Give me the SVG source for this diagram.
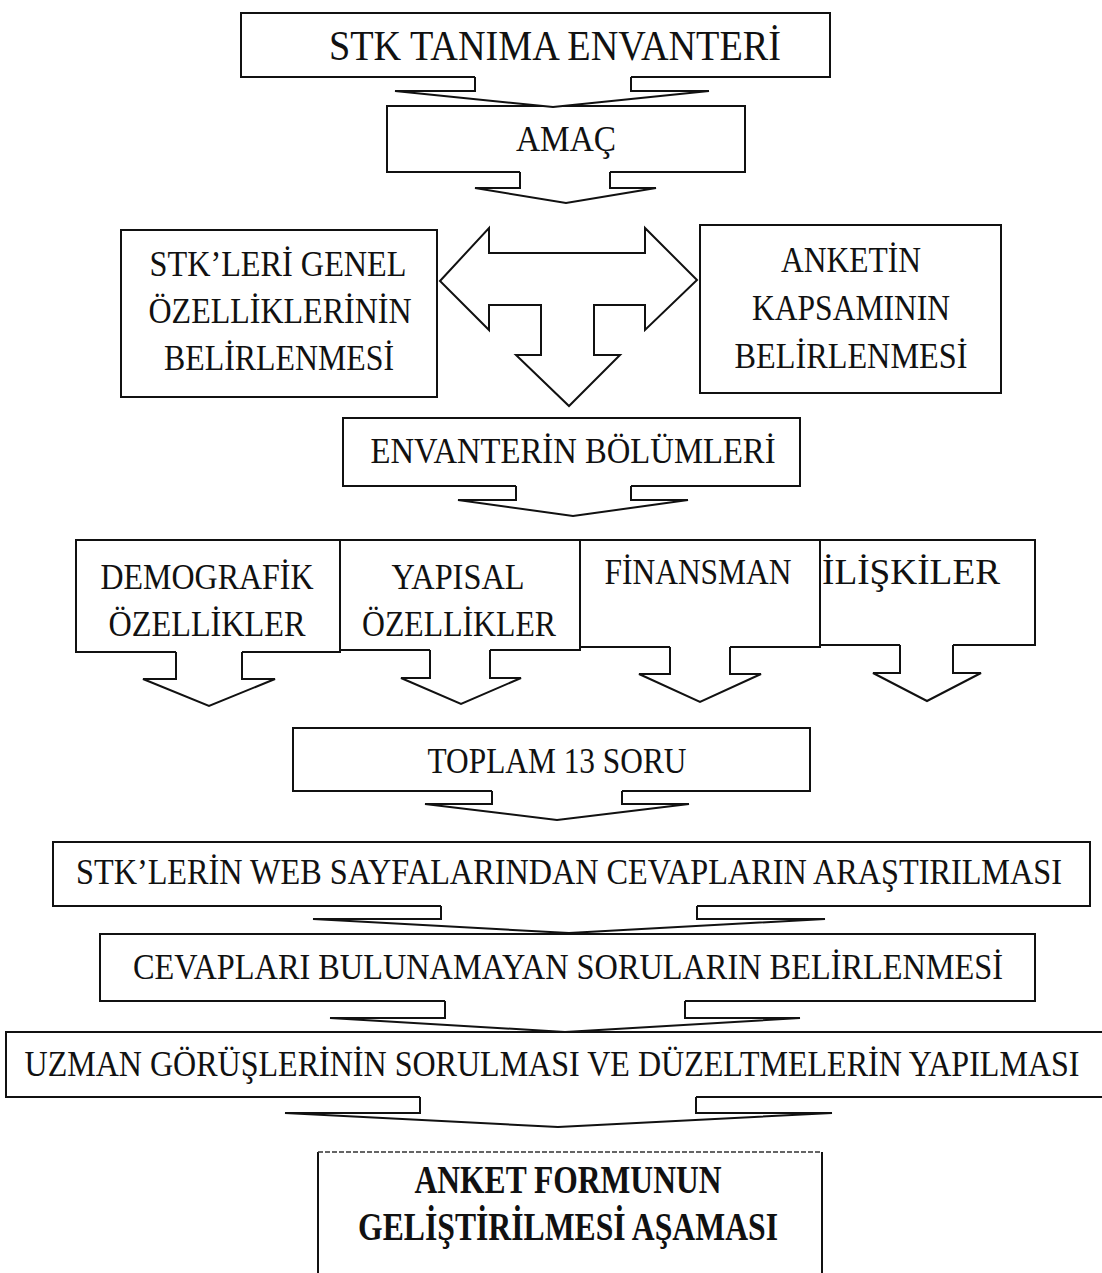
<svg xmlns="http://www.w3.org/2000/svg" width="1102" height="1273" viewBox="0 0 1102 1273">
<style>
.bg{fill:#fff}
.box{fill:#fff;stroke:#111;stroke-width:2;stroke-linejoin:miter}
.arr{fill:#fff;stroke:#111;stroke-width:2;stroke-linejoin:miter}
.t{font-family:"Liberation Serif","Times New Roman",serif;font-size:32px;fill:#111;text-anchor:middle}
.tb{font-family:"Liberation Serif","Times New Roman",serif;font-size:32px;font-weight:bold;fill:#111;text-anchor:middle}
</style>
<rect class="bg" x="0" y="0" width="1102" height="1273"/>

<g id="n-stk-tanima">
<path class="box" d="M475,77 H241 V13 H830 V77 H631"/>
<text class="t" transform="translate(555,60) scale(1,1.15)" style="font-size:37px" textLength="452" lengthAdjust="spacingAndGlyphs">STK TANIMA ENVANTERİ</text>
</g>

<g id="n-amac">
<path class="box" d="M520,172 H387 V106 H745 V172 H610"/>
<text class="t" transform="translate(566,151) scale(1,1.15)" textLength="100" lengthAdjust="spacingAndGlyphs">AMAÇ</text>
</g>

<g id="n-genel">
<rect class="box" x="121" y="230" width="316" height="167"/>
<text class="t" transform="translate(278,276) scale(1,1.15)" textLength="257" lengthAdjust="spacingAndGlyphs">STK’LERİ GENEL</text>
<text class="t" transform="translate(280,323) scale(1,1.15)" textLength="263" lengthAdjust="spacingAndGlyphs">ÖZELLİKLERİNİN</text>
<text class="t" transform="translate(279,370) scale(1,1.15)" textLength="230" lengthAdjust="spacingAndGlyphs">BELİRLENMESİ</text>
</g>

<g id="n-kapsam">
<rect class="box" x="700" y="225" width="301" height="168"/>
<text class="t" transform="translate(851,272) scale(1,1.15)" textLength="140" lengthAdjust="spacingAndGlyphs">ANKETİN</text>
<text class="t" transform="translate(851,320) scale(1,1.15)" textLength="198" lengthAdjust="spacingAndGlyphs">KAPSAMININ</text>
<text class="t" transform="translate(851,368) scale(1,1.15)" textLength="233" lengthAdjust="spacingAndGlyphs">BELİRLENMESİ</text>
</g>

<g id="n-bolumler">
<path class="box" d="M516,486 H343 V418 H800 V486 H631"/>
<text class="t" transform="translate(573,463) scale(1,1.15)" textLength="405" lengthAdjust="spacingAndGlyphs">ENVANTERİN BÖLÜMLERİ</text>
</g>

<g id="n-demografik">
<path class="box" d="M176,652 H76 V540 H340 V652 H242"/>
<text class="t" transform="translate(207,589) scale(1,1.15)" textLength="213" lengthAdjust="spacingAndGlyphs">DEMOGRAFİK</text>
<text class="t" transform="translate(207,636) scale(1,1.15)" textLength="197" lengthAdjust="spacingAndGlyphs">ÖZELLİKLER</text>
</g>

<g id="n-yapisal">
<path class="box" d="M430,650 H340 V540 H580 V650 H490"/>
<text class="t" transform="translate(458,589) scale(1,1.15)" textLength="133" lengthAdjust="spacingAndGlyphs">YAPISAL</text>
<text class="t" transform="translate(459,636) scale(1,1.15)" textLength="194" lengthAdjust="spacingAndGlyphs">ÖZELLİKLER</text>
</g>

<g id="n-finansman">
<path class="box" d="M670,647 H580 V540 H820 V647 H730"/>
<text class="t" transform="translate(698,584) scale(1,1.15)" textLength="187" lengthAdjust="spacingAndGlyphs">FİNANSMAN</text>
</g>

<g id="n-iliskiler">
<path class="box" d="M900,645 H820 V540 H1035 V645 H953"/>
<text class="t" transform="translate(911,584) scale(1,1.15)" textLength="178" lengthAdjust="spacingAndGlyphs">İLİŞKİLER</text>
</g>

<g id="n-toplam">
<path class="box" d="M492,791 H293 V728 H810 V791 H622"/>
<text class="t" transform="translate(557,773) scale(1,1.15)" textLength="259" lengthAdjust="spacingAndGlyphs">TOPLAM 13 SORU</text>
</g>

<g id="n-web">
<path class="box" d="M441,906 H53 V842 H1090 V906 H697"/>
<text class="t" transform="translate(569,884) scale(1,1.15)" textLength="986" lengthAdjust="spacingAndGlyphs">STK’LERİN WEB SAYFALARINDAN CEVAPLARIN ARAŞTIRILMASI</text>
</g>

<g id="n-cevaplari">
<path class="box" d="M445,1001 H100 V934 H1035 V1001 H685"/>
<text class="t" transform="translate(568,979) scale(1,1.15)" textLength="870" lengthAdjust="spacingAndGlyphs">CEVAPLARI BULUNAMAYAN SORULARIN BELİRLENMESİ</text>
</g>

<g id="n-uzman">
<path class="box" d="M420,1097 H6 V1032 H1112 V1097 H696"/>
<text class="t" transform="translate(552,1076) scale(1,1.15)" textLength="1055" lengthAdjust="spacingAndGlyphs">UZMAN GÖRÜŞLERİNİN SORULMASI VE DÜZELTMELERİN YAPILMASI</text>
</g>

<g id="n-anket">
<rect x="318" y="1152" width="504" height="130" fill="#fff"/>
<path d="M318,1152 V1282 M822,1152 V1282" fill="none" stroke="#111" stroke-width="2"/>
<path d="M318,1152 H822" fill="none" stroke="#333" stroke-width="1.5" stroke-dasharray="5 2"/>
<text class="tb" transform="translate(568,1193) scale(1,1.22)" textLength="307" lengthAdjust="spacingAndGlyphs">ANKET FORMUNUN</text>
<text class="tb" transform="translate(568,1240) scale(1,1.22)" textLength="420" lengthAdjust="spacingAndGlyphs">GELİŞTİRİLMESİ AŞAMASI</text>
</g>

<g id="connectors">
<path class="arr" d="M475,77 V91 H395 L553,107 L709,91 H631 V77"/>
<path class="arr" d="M520,172 V188 H475 L566,203 L656,188 H610 V172"/>
<path class="arr" d="M440,281 L489,228 V253 H645 V228 L697,280 L645,330 V305 H594 V355 H620 L569,406 L516,355 H541 V305 H489 V330 Z"/>
<path class="arr" d="M516,486 V500 H458 L573,516 L688,500 H631 V486"/>
<path class="arr" d="M176,652 V679 H143 L209,706 L275,679 H242 V652"/>
<path class="arr" d="M430,650 V678 H401 L461,704 L521,678 H490 V650"/>
<path class="arr" d="M670,647 V674 H639 L700,702 L761,674 H730 V647"/>
<path class="arr" d="M900,645 V673 H873 L927,701 L981,673 H953 V645"/>
<path class="arr" d="M492,791 V804 H425 L557,820 L689,804 H622 V791"/>
<path class="arr" d="M441,906 V919 H313 L569,933 L825,919 H697 V906"/>
<path class="arr" d="M445,1001 V1018 H330 L565,1032 L800,1018 H685 V1001"/>
<path class="arr" d="M420,1097 V1113 H285 L558,1127 L832,1113 H696 V1097"/>
</g>
</svg>
